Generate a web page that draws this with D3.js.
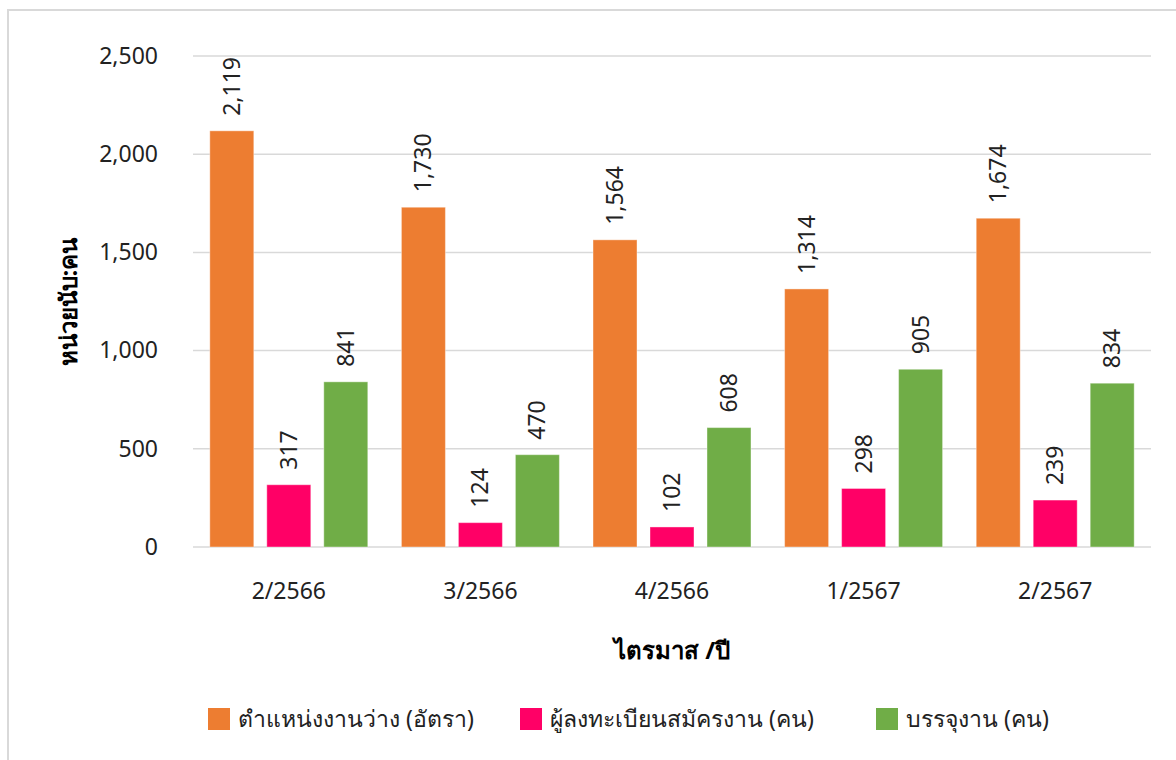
<!DOCTYPE html>
<html>
<head>
<meta charset="utf-8">
<script src="https://cdn.jsdelivr.net/npm/d3@7"></script>
<style>
  body { margin: 0; background: #fff; }
  svg { font-family: "Noto Sans", sans-serif; }
</style>
</head>
<body>
<div id="chart"></div>
<script>
const quarters = ["2/2566", "3/2566", "4/2566", "1/2567", "2/2567"];
const seriesNames = ["ตำแหน่งงานว่าง (อัตรา)", "ผู้ลงทะเบียนสมัครงาน (คน)", "บรรจุงาน (คน)"];
const vacancies = [2119, 1730, 1564, 1314, 1674];
const applicants = [317, 124, 102, 298, 239];
const placements = [841, 470, 608, 905, 834];
const yTicks = [0, 500, 1000, 1500, 2000, 2500];
const colors = ["#ED7D31", "#FF0066", "#70AD47"];

const width = 1176, height = 760;
const margin = { left: 193, right: 25, top: 56, bottom: 213 };

const svg = d3.select("#chart").append("svg")
    .attr("width", width)
    .attr("height", height);

// outer chart border
svg.append("rect")
    .attr("x", 8).attr("y", 10)
    .attr("width", width + 20).attr("height", height + 20)
    .attr("fill", "none")
    .attr("stroke", "#d9d9d9")
    .attr("stroke-width", 2);

const x0 = d3.scaleBand()
    .domain(quarters)
    .range([margin.left, width - margin.right]);

const x1 = d3.scaleBand()
    .domain(d3.range(3))
    .range([0, x0.bandwidth()])
    .paddingInner(0.228)
    .paddingOuter(0.295);

const y = d3.scaleLinear()
    .domain([0, 2500])
    .range([height - margin.bottom, margin.top]);

// gridlines
svg.append("g")
    .selectAll("line")
    .data(yTicks)
    .enter().append("line")
    .attr("x1", margin.left)
    .attr("x2", width - margin.right)
    .attr("y1", d => y(d))
    .attr("y2", d => y(d))
    .attr("stroke", "#d9d9d9")
    .attr("stroke-width", 1.5);

// y axis labels
const yAxis = svg.append("g")
    .attr("transform", `translate(${margin.left - 35},0)`)
    .call(d3.axisLeft(y).tickValues(yTicks).tickFormat(d3.format(",")).tickSize(0).tickPadding(0));
yAxis.select(".domain").remove();
yAxis.selectAll("text")
    .attr("font-size", 23)
    .attr("font-family", "Noto Sans, sans-serif")
    .attr("fill", "#222");

// x axis labels
const xAxis = svg.append("g")
    .attr("transform", `translate(0,${height - margin.bottom})`)
    .call(d3.axisBottom(x0).tickSize(0).tickPadding(36));
xAxis.select(".domain").remove();
xAxis.selectAll("text")
    .attr("font-size", 23)
    .attr("font-family", "Noto Sans, sans-serif")
    .attr("fill", "#222");

const rows = quarters.map((q, i) => ({ q, values: [vacancies[i], applicants[i], placements[i]] }));

const groups = svg.append("g")
    .selectAll("g")
    .data(rows)
    .enter().append("g")
    .attr("transform", d => `translate(${x0(d.q)},0)`);

groups.selectAll("rect")
    .data(d => d.values.map((v, k) => ({ v, k })))
    .enter().append("rect")
    .attr("x", d => x1(d.k))
    .attr("width", x1.bandwidth())
    .attr("y", d => y(d.v))
    .attr("height", d => y(0) - y(d.v))
    .attr("fill", d => colors[d.k])
    .attr("stroke", "#fff")
    .attr("stroke-opacity", 0.4)
    .attr("stroke-width", 1);

groups.selectAll("text.label")
    .data(d => d.values.map((v, k) => ({ v, k })))
    .enter().append("text")
    .attr("class", "label")
    .attr("transform", d => `translate(${x1(d.k) + x1.bandwidth() / 2 + 8},${y(d.v) - 15}) rotate(-90)`)
    .attr("font-size", 23)
    .attr("fill", "#222")
    .text(d => d3.format(",")(d.v));

// axis titles
svg.append("text")
    .attr("transform", `translate(77,302) rotate(-90)`)
    .attr("text-anchor", "middle")
    .attr("font-size", 24)
    .attr("font-weight", "bold")
    .attr("fill", "#000")
    .text("หน่วยนับ:คน");

svg.append("text")
    .attr("x", (margin.left + width - margin.right) / 2)
    .attr("y", 659)
    .attr("text-anchor", "middle")
    .attr("font-size", 24)
    .attr("font-weight", "bold")
    .attr("fill", "#000")
    .text("ไตรมาส /ปี");

// legend
const legendX = [208, 520, 876];
const legend = svg.append("g")
    .selectAll("g")
    .data(seriesNames)
    .enter().append("g")
    .attr("transform", (d, i) => `translate(${legendX[i]},708)`);

legend.append("rect")
    .attr("width", 22)
    .attr("height", 22)
    .attr("fill", (d, i) => colors[i]);

legend.append("text")
    .attr("x", 30)
    .attr("y", 19)
    .attr("font-size", 23)
    .attr("fill", "#222")
    .text(d => d);
</script>
</body>
</html>
